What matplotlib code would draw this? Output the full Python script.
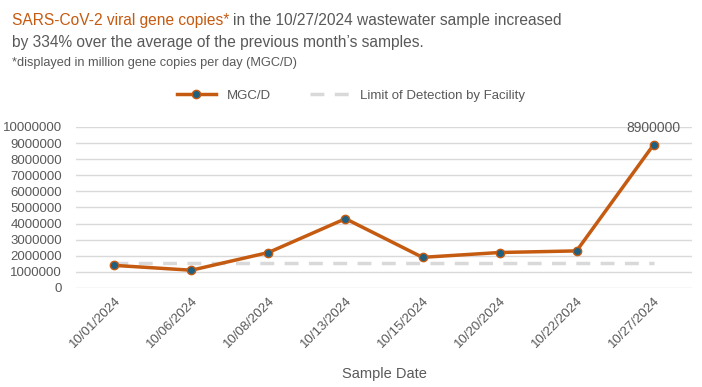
import matplotlib
matplotlib.use("Agg")
import matplotlib.pyplot as plt

dates = ["10/01/2024", "10/06/2024", "10/08/2024", "10/13/2024",
         "10/15/2024", "10/20/2024", "10/22/2024", "10/27/2024"]
mgcd = [1400000, 1100000, 2200000, 4300000, 1900000, 2200000, 2300000, 8900000]
lod = [1550000] * len(dates)
yticks = list(range(0, 10000001, 1000000))

plt.rcParams['font.family'] = ['Liberation Sans', 'DejaVu Sans']
orange = "#C55A11"
blue = "#1F5F7F"
gray = "#595959"

fig = plt.figure(figsize=(7.02, 3.87), dpi=100)
ax = fig.add_axes([0.108, 0.256, 0.878, 0.416])

x = list(range(len(dates)))
ax.plot(x, lod, color="#D9D9D9", lw=2.5, dashes=(4, 3), label="Limit of Detection by Facility", zorder=2)
ax.plot(x, mgcd, color=orange, lw=2.5, marker="o", ms=6, mfc=blue, mec=orange, mew=1,
        label="MGC/D", zorder=3)
ax.annotate("8900000", (x[-1], mgcd[-1]), xytext=(0, 7), textcoords="offset points",
            ha="center", va="bottom", fontsize=10, color=gray)

ax.set_xlim(-0.5, len(dates) - 0.5)
ax.set_ylim(0, 10000000)
ax.set_yticks(yticks)
ax.set_yticklabels([str(v) for v in yticks], fontsize=9.5, color=gray)
ax.set_xticks(x)
ax.set_xticklabels(dates, rotation=45, ha="right", rotation_mode="anchor", fontsize=9.5, color=gray)
ax.tick_params(axis="y", length=0, pad=10)
ax.tick_params(axis="x", length=0, pad=5)
ax.grid(axis="y", color="#D9D9D9", lw=1)
ax.set_axisbelow(True)
for s in ax.spines.values():
    s.set_visible(False)
ax.set_xlabel("Sample Date", fontsize=10.5, color=gray, labelpad=12)

handles, labels = ax.get_legend_handles_labels()
fig.legend(handles[::-1], labels[::-1], loc="center", bbox_to_anchor=(0.5, 0.752), ncol=2,
           frameon=False, fontsize=9.5, labelcolor=gray, handlelength=3, columnspacing=3)

# title with two colours
t1 = fig.text(0.017, 0.935, "SARS-CoV-2 viral gene copies*", color=orange, fontsize=11.2, va="baseline")
fig.canvas.draw()
bb = t1.get_window_extent()
x2 = (bb.x1 + 4) / fig.bbox.width
fig.text(x2, 0.935, "in the 10/27/2024 wastewater sample increased", color=gray, fontsize=11.2, va="baseline")
fig.text(0.017, 0.878, "by 334% over the average of the previous month\u2019s samples.", color=gray,
         fontsize=11.2, va="baseline")
fig.text(0.017, 0.83, "*displayed in million gene copies per day (MGC/D)", color=gray,
         fontsize=9.2, va="baseline")

fig.savefig("out.png", dpi=100)
